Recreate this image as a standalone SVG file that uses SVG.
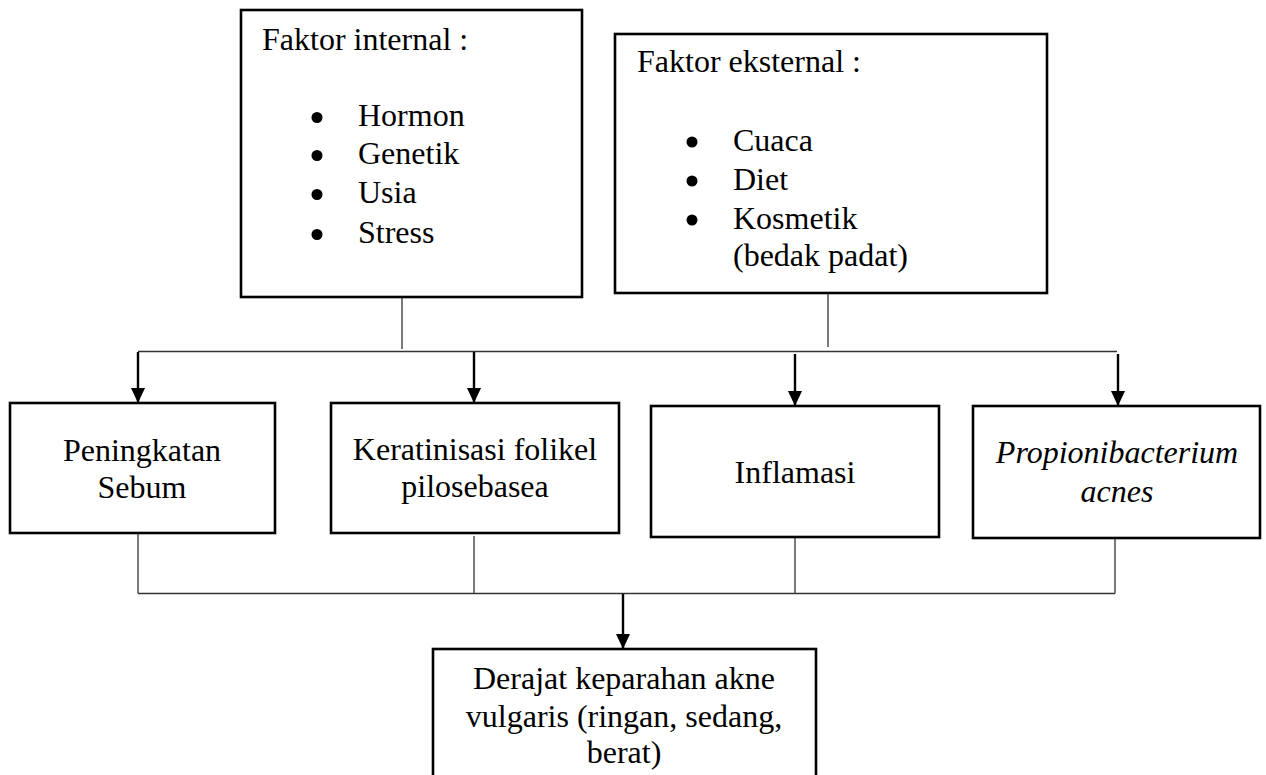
<svg xmlns="http://www.w3.org/2000/svg" width="1266" height="775" viewBox="0 0 1266 775">
<style>
.box{fill:#fff;stroke:#000;stroke-width:2.6}
.t{font-family:"Liberation Serif","Times New Roman",serif;font-size:32px;fill:#000}
.c{text-anchor:middle}
.i{font-style:italic}
.thin{stroke:#333;stroke-width:1.3;fill:none}
.arr{stroke:#000;stroke-width:2.4;fill:none}
.bul{fill:#000}
</style>
<defs>
<marker id="ah" markerUnits="userSpaceOnUse" markerWidth="16" markerHeight="14" refX="15" refY="7" orient="auto">
<path d="M0,0 L15,7 L0,14 Z" fill="#000"/>
</marker>
</defs>
<g id="connectors">
<line class="thin" x1="402" y1="297" x2="402" y2="349"/>
<line class="thin" x1="828" y1="293" x2="828" y2="347"/>
<line class="thin" x1="138" y1="351.5" x2="1117" y2="351.5"/>
<line class="arr" x1="138" y1="352" x2="138" y2="403" marker-end="url(#ah)"/>
<line class="arr" x1="474" y1="352" x2="474" y2="403" marker-end="url(#ah)"/>
<line class="arr" x1="795" y1="354" x2="795" y2="406" marker-end="url(#ah)"/>
<line class="arr" x1="1118" y1="354" x2="1118" y2="406" marker-end="url(#ah)"/>
<line class="thin" x1="138" y1="533" x2="138" y2="593.5"/>
<line class="thin" x1="474" y1="536" x2="474" y2="593.5"/>
<line class="thin" x1="795" y1="537" x2="795" y2="593.5"/>
<line class="thin" x1="1115" y1="538" x2="1115" y2="593.5"/>
<line class="thin" x1="138" y1="593.5" x2="1115" y2="593.5"/>
<line class="arr" x1="623" y1="594" x2="623" y2="649" marker-end="url(#ah)"/>
</g>
<g id="faktor-internal">
<rect class="box" x="241" y="10" width="341" height="287"/>
<text class="t" x="262" y="50">Faktor internal :</text>
<circle class="bul" cx="317" cy="117.5" r="5.5"/>
<circle class="bul" cx="317" cy="155.5" r="5.5"/>
<circle class="bul" cx="317" cy="194.5" r="5.5"/>
<circle class="bul" cx="317" cy="234.5" r="5.5"/>
<text class="t" x="358" y="126">Hormon</text>
<text class="t" x="358" y="164">Genetik</text>
<text class="t" x="358" y="203">Usia</text>
<text class="t" x="358" y="243">Stress</text>
</g>
<g id="faktor-eksternal">
<rect class="box" x="615" y="34" width="432" height="259"/>
<text class="t" x="637" y="72">Faktor eksternal :</text>
<circle class="bul" cx="692" cy="142" r="5.5"/>
<circle class="bul" cx="692" cy="181" r="5.5"/>
<circle class="bul" cx="692" cy="220" r="5.5"/>
<text class="t" x="733" y="151">Cuaca</text>
<text class="t" x="733" y="190">Diet</text>
<text class="t" x="733" y="229">Kosmetik</text>
<text class="t" x="733" y="266">(bedak padat)</text>
</g>
<g id="peningkatan-sebum">
<rect class="box" x="10" y="403" width="265" height="130"/>
<text class="t c" x="142" y="461">Peningkatan</text>
<text class="t c" x="142" y="498">Sebum</text>
</g>
<g id="keratinisasi">
<rect class="box" x="331" y="403" width="288" height="130"/>
<text class="t c" x="475" y="460">Keratinisasi folikel</text>
<text class="t c" x="475" y="497">pilosebasea</text>
</g>
<g id="inflamasi">
<rect class="box" x="651" y="406" width="288" height="131"/>
<text class="t c" x="795" y="483">Inflamasi</text>
</g>
<g id="propionibacterium">
<rect class="box" x="973" y="406" width="287" height="132"/>
<text class="t c i" x="1117" y="463">Propionibacterium</text>
<text class="t c i" x="1117" y="502">acnes</text>
</g>
<g id="derajat-keparahan">
<rect class="box" x="433" y="649" width="383" height="140"/>
<text class="t c" x="624" y="689">Derajat keparahan akne</text>
<text class="t c" x="624" y="727">vulgaris (ringan, sedang,</text>
<text class="t c" x="624" y="763">berat)</text>
</g>
</svg>
